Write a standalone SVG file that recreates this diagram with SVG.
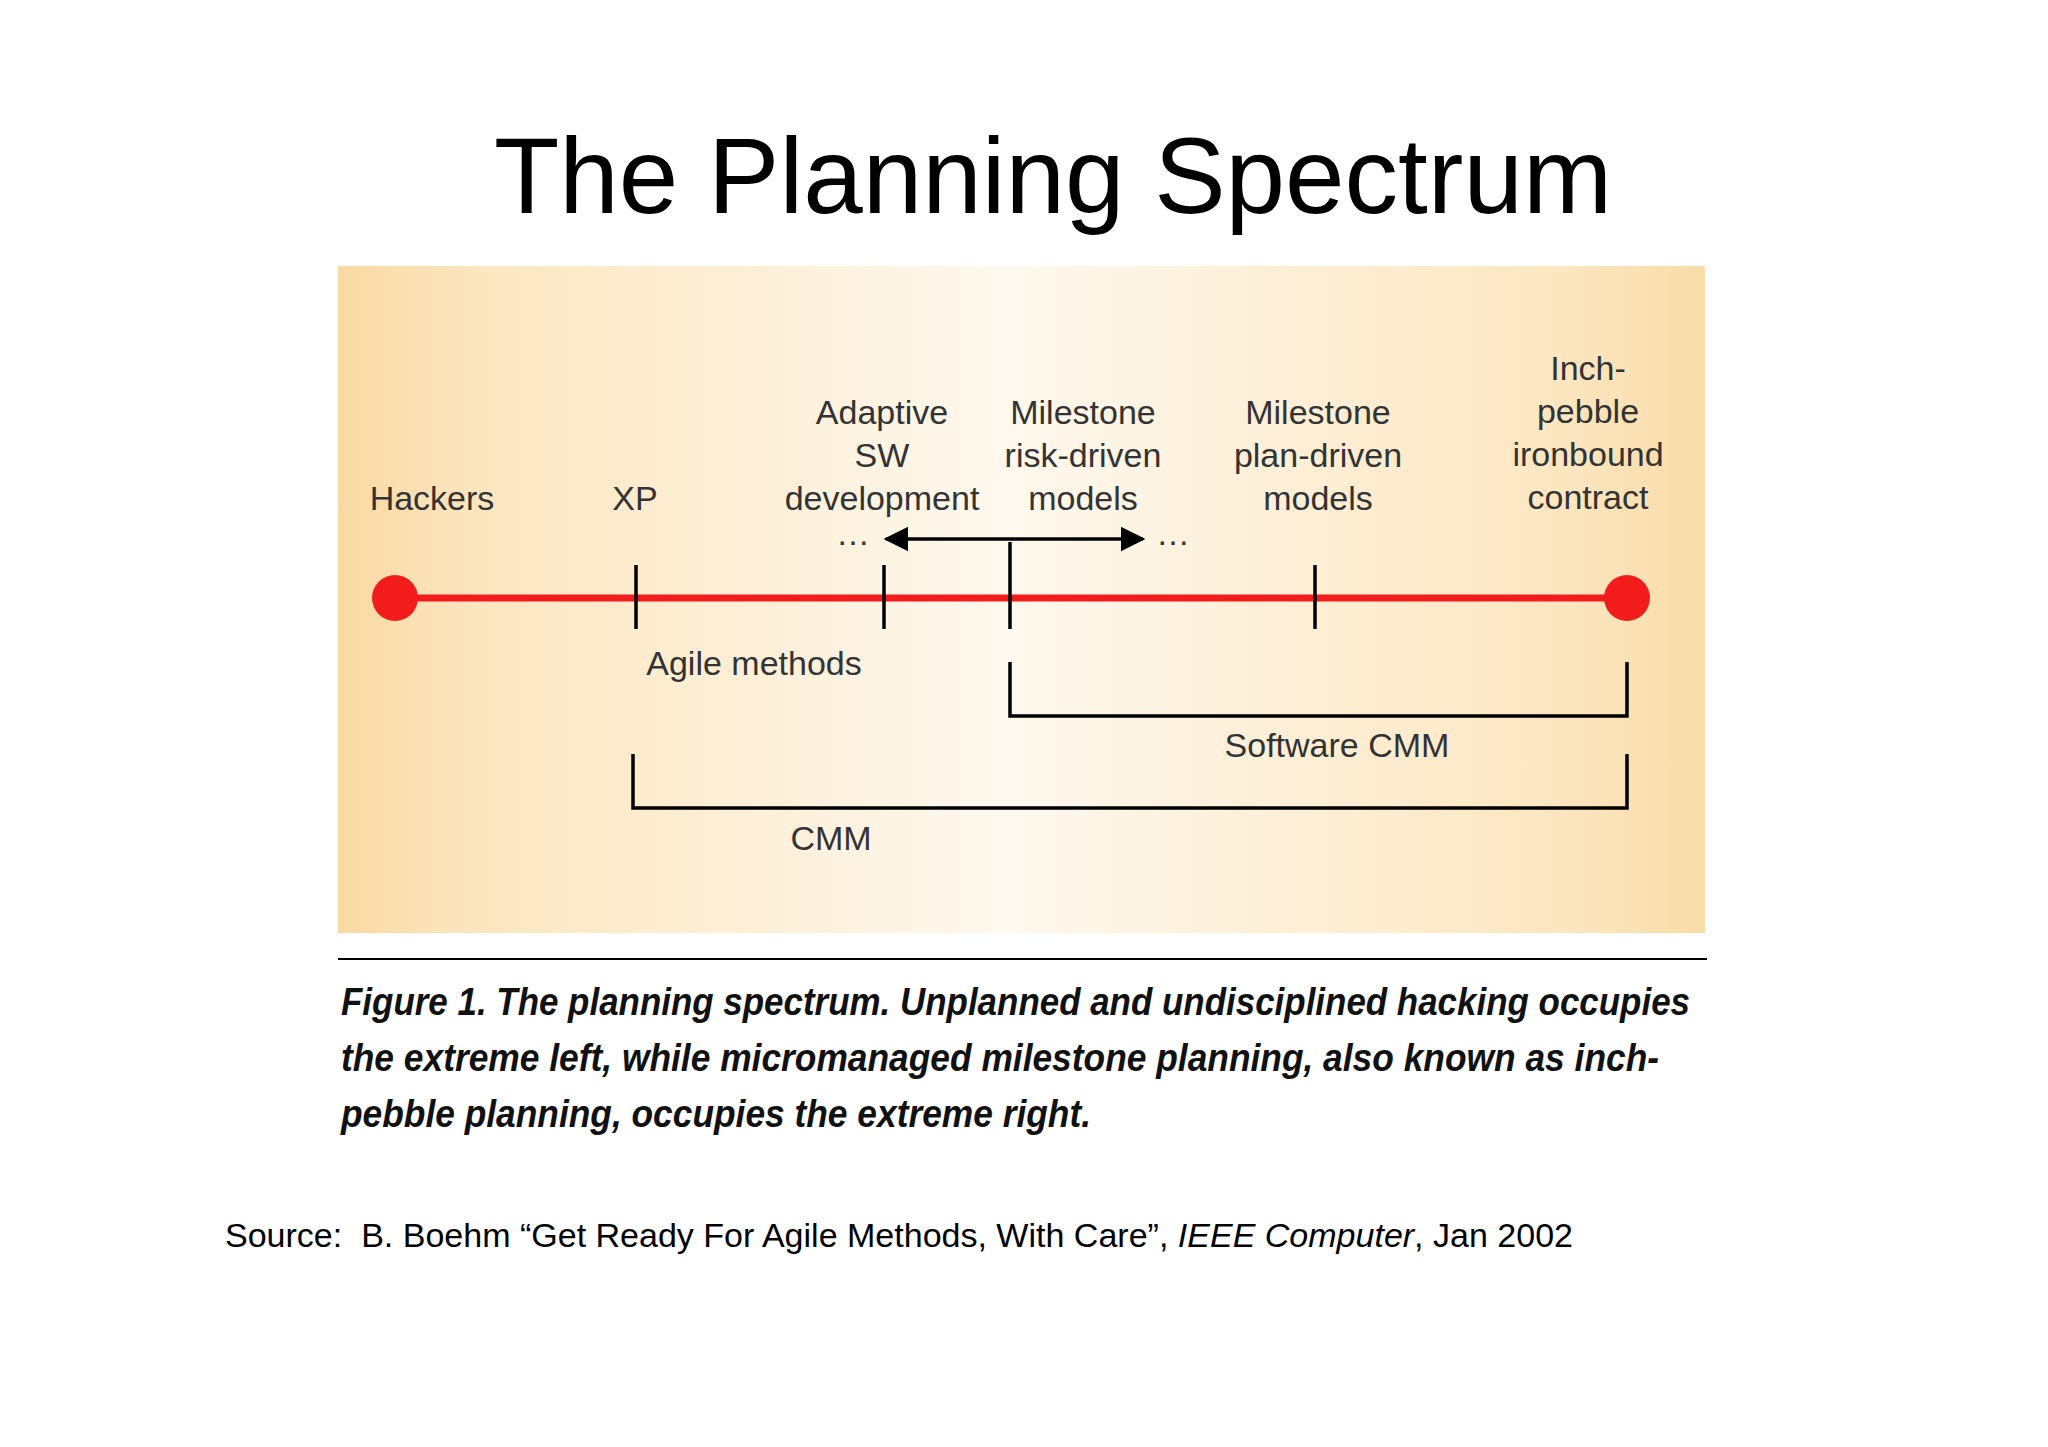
<svg xmlns="http://www.w3.org/2000/svg" width="2048" height="1447" viewBox="0 0 2048 1447">
<defs>
<linearGradient id="bg" x1="0" y1="0" x2="1" y2="0">
<stop offset="0" stop-color="#f9d9a2"/>
<stop offset="0.1" stop-color="#fce6c0"/>
<stop offset="0.49" stop-color="#fef8ee"/>
<stop offset="0.9" stop-color="#fce6c0"/>
<stop offset="1" stop-color="#f9dca8"/>
</linearGradient>
<marker id="ah" viewBox="0 0 10 10" refX="9" refY="5" markerWidth="7" markerHeight="7" orient="auto-start-reverse"><path d="M0,0 L10,5 L0,10 z" fill="#000"/></marker>
<style>
.lb{font-family:"Liberation Sans",Arial,sans-serif;font-size:34px;fill:#333;text-anchor:middle}
.tk{stroke:#000;stroke-width:3.5;fill:none}
.cap{font-family:"Liberation Sans",Arial,sans-serif;font-size:38px;font-weight:bold;font-style:italic;fill:#111}
</style>
</defs>
<rect width="2048" height="1447" fill="#fff"/>
<text x="1053" y="213" font-family="Liberation Sans,Arial,sans-serif" font-size="107" text-anchor="middle" fill="#000">The Planning Spectrum</text>
<rect x="338" y="266" width="1367" height="667" fill="url(#bg)"/>
<g id="connectors">
<line x1="394" y1="598" x2="1627" y2="598" stroke="#f21c1c" stroke-width="7"/>
<path class="tk" d="M636,565V629M884,565V629M1010,542V629M1315,565V629"/>
<line x1="1010" y1="539" x2="886" y2="539" stroke="#000" stroke-width="3.5" marker-end="url(#ah)"/>
<line x1="1010" y1="539" x2="1143" y2="539" stroke="#000" stroke-width="3.5" marker-end="url(#ah)"/>
<path class="tk" d="M1010,662V716H1627V662"/>
<path class="tk" d="M633,754V808H1627V754"/>
</g>
<g id="hackers"><circle cx="395" cy="598" r="23" fill="#f21c1c"/><text class="lb" x="432" y="510">Hackers</text></g>
<g id="xp"><text class="lb" x="635" y="510">XP</text></g>
<g id="adaptive"><text class="lb" x="882" y="424">Adaptive</text><text class="lb" x="882" y="467">SW</text><text class="lb" x="882" y="510">development</text><text class="lb" x="853" y="545">…</text></g>
<g id="risk"><text class="lb" x="1083" y="424">Milestone</text><text class="lb" x="1083" y="467">risk-driven</text><text class="lb" x="1083" y="510">models</text><text class="lb" x="1173" y="545">…</text></g>
<g id="plan"><text class="lb" x="1318" y="424">Milestone</text><text class="lb" x="1318" y="467">plan-driven</text><text class="lb" x="1318" y="510">models</text></g>
<g id="inch"><circle cx="1627" cy="598" r="23" fill="#f21c1c"/><text class="lb" x="1588" y="380">Inch-</text><text class="lb" x="1588" y="423">pebble</text><text class="lb" x="1588" y="466">ironbound</text><text class="lb" x="1588" y="509">contract</text></g>
<g id="agile"><text class="lb" x="754" y="675">Agile methods</text></g>
<g id="swcmm"><text class="lb" x="1337" y="757">Software CMM</text></g>
<g id="cmm"><text class="lb" x="831" y="850">CMM</text></g>
<line x1="338" y1="959" x2="1707" y2="959" stroke="#000" stroke-width="2"/>
<text class="cap" x="341" y="1015" textLength="1349" lengthAdjust="spacingAndGlyphs">Figure 1. The planning spectrum. Unplanned and undisciplined hacking occupies</text>
<text class="cap" x="341" y="1071" textLength="1318" lengthAdjust="spacingAndGlyphs">the extreme left, while micromanaged milestone planning, also known as inch-</text>
<text class="cap" x="341" y="1127" textLength="750" lengthAdjust="spacingAndGlyphs">pebble planning, occupies the extreme right.</text>
<text x="225" y="1247" font-family="Liberation Sans,Arial,sans-serif" font-size="33" fill="#000" xml:space="preserve" textLength="1348" lengthAdjust="spacingAndGlyphs">Source:  B. Boehm “Get Ready For Agile Methods, With Care”, <tspan font-style="italic">IEEE Computer</tspan>, Jan 2002</text>
</svg>
